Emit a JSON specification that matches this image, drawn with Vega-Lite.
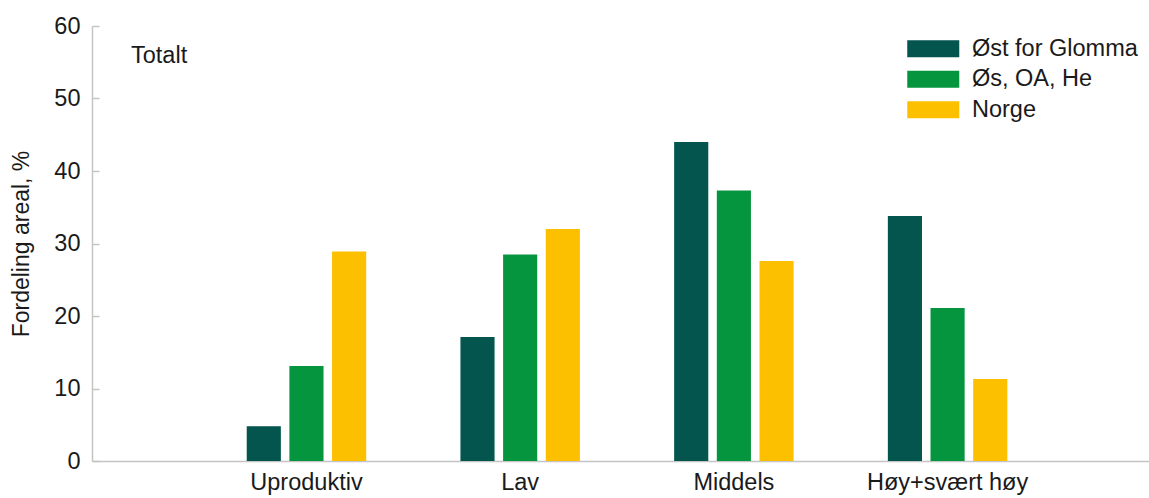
{
  "$schema": "https://vega.github.io/schema/vega-lite/v6.json",
  "autosize": "none",
  "width": 1057,
  "height": 435,
  "padding": {"left": 92, "top": 26, "right": 0, "bottom": 37},
  "background": "white",
  "title": {
    "text": "Totalt",
    "orient": "top",
    "anchor": "start",
    "frame": "group",
    "offset": -39,
    "baseline": "alphabetic",
    "dx": 39,
    "dy": 33,
    "font": "Liberation Sans",
    "fontSize": 23.5,
    "fontWeight": "normal",
    "color": "#1a1a1a"
  },
  "data": {
    "values": [
      {"kategori": "Uproduktiv", "serie": "Øst for Glomma", "andel": 4.8},
      {"kategori": "Uproduktiv", "serie": "Øs, OA, He", "andel": 13.1},
      {"kategori": "Uproduktiv", "serie": "Norge", "andel": 28.9},
      {"kategori": "Lav", "serie": "Øst for Glomma", "andel": 17.1},
      {"kategori": "Lav", "serie": "Øs, OA, He", "andel": 28.5},
      {"kategori": "Lav", "serie": "Norge", "andel": 32.0},
      {"kategori": "Middels", "serie": "Øst for Glomma", "andel": 44.0},
      {"kategori": "Middels", "serie": "Øs, OA, He", "andel": 37.3},
      {"kategori": "Middels", "serie": "Norge", "andel": 27.6},
      {"kategori": "Høy+svært høy", "serie": "Øst for Glomma", "andel": 33.8},
      {"kategori": "Høy+svært høy", "serie": "Øs, OA, He", "andel": 21.1},
      {"kategori": "Høy+svært høy", "serie": "Norge", "andel": 11.3}
    ]
  },
  "mark": {"type": "bar"},
  "encoding": {
    "x": {
      "field": "kategori",
      "type": "nominal",
      "sort": ["Uproduktiv", "Lav", "Middels", "Høy+svært høy"],
      "scale": {"paddingInner": 0.441, "paddingOuter": 0.6935, "align": 0.522},
      "axis": {
        "title": null,
        "labelAngle": 0,
        "ticks": false,
        "domain": true,
        "domainColor": "#c4c4c4",
        "domainWidth": 1.5,
        "grid": false,
        "labelFont": "Liberation Sans",
        "labelFontSize": 23.5,
        "labelColor": "#1a1a1a",
        "labelPadding": 9
      }
    },
    "xOffset": {
      "field": "serie",
      "type": "nominal",
      "sort": ["Øst for Glomma", "Øs, OA, He", "Norge"],
      "scale": {"paddingInner": 0.2, "paddingOuter": 0}
    },
    "y": {
      "field": "andel",
      "type": "quantitative",
      "scale": {"domain": [0, 60], "nice": false},
      "axis": {
        "title": "Fordeling areal, %",
        "titleFont": "Liberation Sans",
        "titleFontSize": 23,
        "titleFontWeight": "normal",
        "titleColor": "#1a1a1a",
        "titlePadding": 20,
        "values": [0, 10, 20, 30, 40, 50, 60],
        "grid": false,
        "domain": true,
        "domainColor": "#c4c4c4",
        "domainWidth": 1.5,
        "ticks": true,
        "tickSize": -7,
        "tickColor": "#c4c4c4",
        "tickWidth": 1.5,
        "labelFont": "Liberation Sans",
        "labelFontSize": 23.5,
        "labelColor": "#1a1a1a",
        "labelPadding": 19
      }
    },
    "color": {
      "field": "serie",
      "type": "nominal",
      "sort": ["Øst for Glomma", "Øs, OA, He", "Norge"],
      "scale": {
        "domain": ["Øst for Glomma", "Øs, OA, He", "Norge"],
        "range": ["#04554E", "#06953F", "#FCC000"]
      },
      "legend": {
        "title": null,
        "orient": "none",
        "legendX": 803.5,
        "legendY": 11,
        "padding": 0,
        "symbolType": "M0,-1H6.12V1H0Z",
        "symbolSize": 289,
        "symbolStrokeWidth": 0,
        "symbolOpacity": 1,
        "labelOffset": 53,
        "labelFont": "Liberation Sans",
        "labelFontSize": 23.5,
        "labelColor": "#1a1a1a",
        "rowPadding": 5.5,
        "labelLimit": 300
      }
    }
  },
  "config": {
    "view": {"stroke": null}
  }
}
